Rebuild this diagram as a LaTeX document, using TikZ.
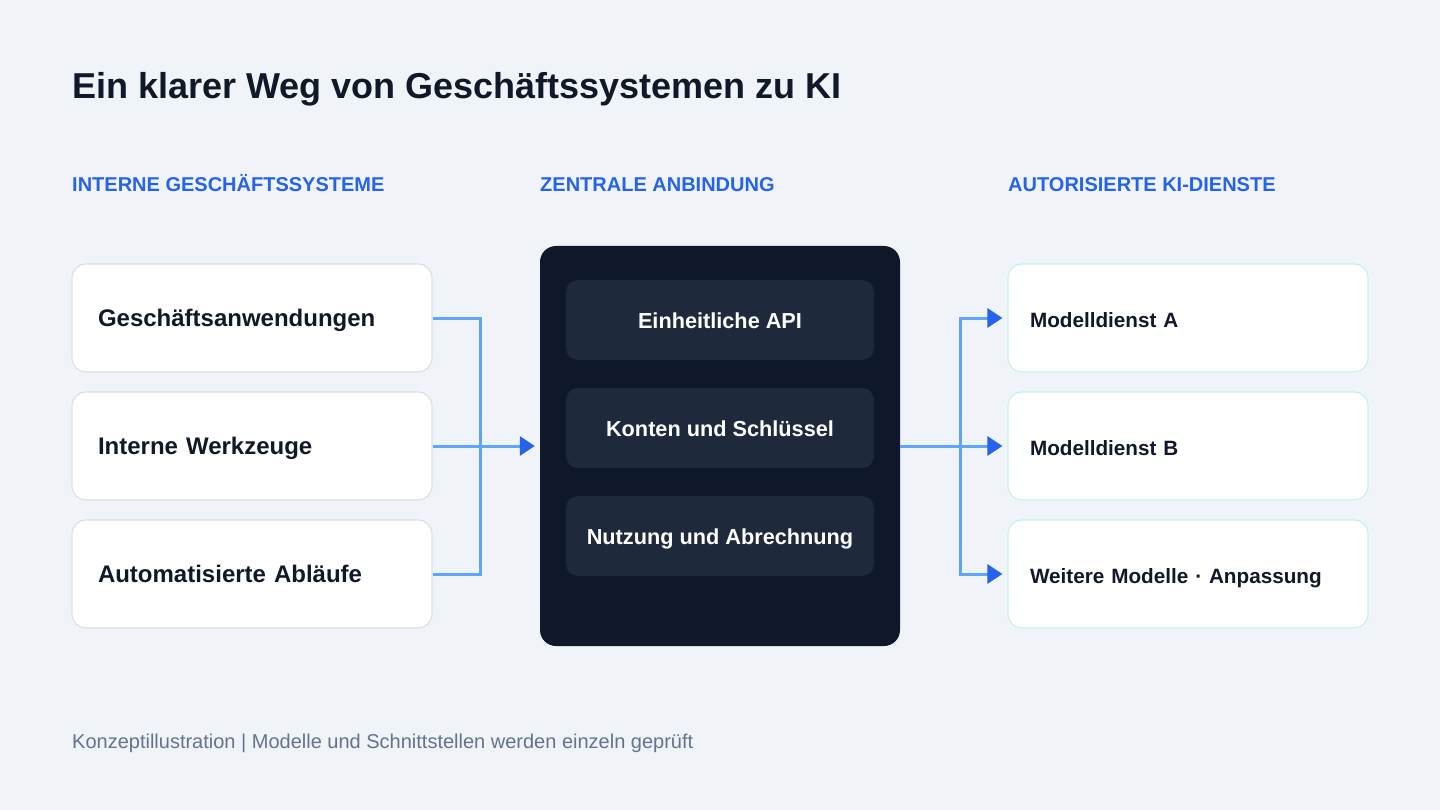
\documentclass[tikz,border=0pt]{standalone}
\usepackage{fontspec}
\setmainfont{Liberation Sans}
\usetikzlibrary{arrows.meta}

\definecolor{pagebg}{HTML}{F0F4F9}
\definecolor{ink}{HTML}{111827}
\definecolor{headblue}{HTML}{2563EB}
\definecolor{linkblue}{HTML}{60A5FA}
\definecolor{srcline}{HTML}{D9E1EB}
\definecolor{dstline}{HTML}{C4F3EA}
\definecolor{hubfill}{HTML}{0F172A}
\definecolor{cellfill}{HTML}{1E293B}
\definecolor{notegray}{HTML}{64748B}

\tikzset{
  header/.style={anchor=base west, inner sep=0pt, text=headblue, font=\fontsize{20}{24}\selectfont\bfseries},
  srcbox/.style={draw=srcline, line width=1.2pt, fill=white, rounded corners=14pt,
    minimum height=108pt, text width=308pt, inner xsep=26pt, align=left,
    text height=17pt, text depth=0pt,
    text=ink, font=\fontsize{24}{28}\selectfont\bfseries},
  dstbox/.style={draw=dstline, line width=1.2pt, fill=white, rounded corners=14pt,
    minimum height=108pt, text width=316pt, inner xsep=22pt, align=left,
    text height=19pt, text depth=0pt,
    text=ink, font=\fontsize{20.7}{24}\selectfont\bfseries},
  cellbox/.style={fill=cellfill, rounded corners=12pt, minimum width=308pt,
    minimum height=80pt, text height=16pt, text depth=0pt,
    text=white, font=\fontsize{21.7}{26}\selectfont\bfseries},
  link/.style={draw=linkblue, line width=3pt},
  tip/.style={-{Triangle[length=15pt,width=19pt,color=headblue]}, shorten >=5pt}
}

\begin{document}
\begin{tikzpicture}[x=1pt,y=-1pt]
    \fill[pagebg] (0,0) rectangle (1440,810);
    \useasboundingbox (0,0) rectangle (1440,810);

    % title and column heads
    \node[anchor=base west, inner sep=0pt, text=ink, font=\fontsize{36}{42}\selectfont\bfseries] (title) at (72,99) {Ein klarer Weg von Geschäftssystemen zu KI};
    \node[header] (headL) at (72,192) {INTERNE GESCHÄFTSSYSTEME};
    \node[header] (headM) at (540,192) {ZENTRALE ANBINDUNG};
    \node[header] (headR) at (1008,192) {AUTORISIERTE KI-DIENSTE};

    % internal systems
    \node[srcbox] (apps) at (252,318) {Geschäftsanwendungen};
    \node[srcbox] (tools) at (252,446) {Interne Werkzeuge};
    \node[srcbox] (flows) at (252,574) {Automatisierte Abläufe};

    % central gateway
    \node[fill=hubfill, rounded corners=16pt, minimum width=360pt, minimum height=400pt] (hub) at (720,446) {};
    \node[cellbox] (api) at (720,320) {Einheitliche API};
    \node[cellbox] (keys) at (720,428) {Konten und Schlüssel};
    \node[cellbox] (billing) at (720,536) {Nutzung und Abrechnung};

    % AI services
    \node[dstbox] (svcA) at (1188,318) {Modelldienst A};
    \node[dstbox] (svcB) at (1188,446) {Modelldienst B};
    \node[dstbox] (svcC) at (1188,574) {Weitere Modelle · Anpassung};

    \coordinate (joinL) at (480,446);
    \coordinate (joinR) at (960,446);

    \draw[link] (apps.east) -| (joinL) |- (flows.east);
    \draw[link, tip] (tools.east) -- (hub.west);

    \draw[link] (hub.east) -- (joinR);
    \draw[link, tip] (joinR) |- (svcA.west);
    \draw[link, tip] (joinR) -- (svcB.west);
    \draw[link, tip] (joinR) |- (svcC.west);

    % footnote
    \node[anchor=base west, inner sep=0pt, text=notegray, font=\fontsize{20}{24}\selectfont] (note) at (72,748) {Konzeptillustration | Modelle und Schnittstellen werden einzeln geprüft};
\end{tikzpicture}
\end{document}
